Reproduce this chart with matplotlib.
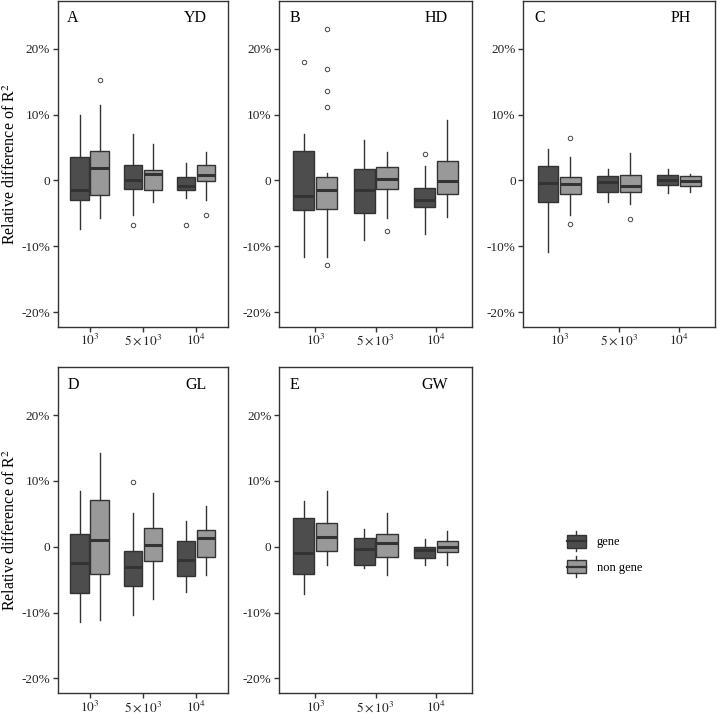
import numpy as np
import matplotlib
matplotlib.use('Agg')
import matplotlib.pyplot as plt
from matplotlib.patches import Rectangle
from matplotlib.lines import Line2D
from matplotlib.legend_handler import HandlerBase

plt.rcParams['font.family'] = ['Liberation Serif', 'DejaVu Serif']
plt.rcParams['mathtext.fontset'] = 'stix'

sizes = ['$10^3$', '$5\\times10^3$', '$10^4$']
letters = ['A', 'B', 'C', 'D', 'E']
traits = ['YD', 'HD', 'PH', 'GL', 'GW']

# five-number summaries in %: (whisker low, q1, median, q3, whisker high)
YD_gene = [(-7.3, -2.9, -1.4, 3.5, 9.9), (-5.2, -1.3, 0.05, 2.4, 7.0), (-2.6, -1.5, -0.8, 0.5, 2.7)]
YD_non = [(-5.7, -2.2, 1.9, 4.5, 11.4), (-3.3, -1.4, 0.95, 1.6, 5.5), (-2.9, -0.15, 0.85, 2.4, 4.3)]
YD_gene_out = [[], [-6.7], [-6.7]]
YD_non_out = [[15.2], [], [-5.3]]

HD_gene = [(-11.6, -4.5, -2.4, 4.4, 7.1), (-9.0, -4.9, -1.4, 1.7, 6.2), (-8.2, -4.0, -2.9, -1.2, 2.2)]
HD_non = [(-11.6, -4.3, -1.4, 0.6, 1.2), (-5.7, -1.3, 0.25, 2.1, 4.3), (-5.6, -2.1, -0.1, 2.9, 9.2)]
HD_gene_out = [[18.0], [], [4.0]]
HD_non_out = [[23.0, 17.0, 13.6, 11.2, -12.8], [-7.6], []]

PH_gene = [(-10.8, -3.2, -0.35, 2.2, 4.8), (-3.3, -1.8, -0.3, 0.7, 1.7), (-1.9, -0.7, 0.0, 0.8, 1.7)]
PH_non = [(-5.3, -2.1, -0.55, 0.6, 3.5), (-3.6, -1.7, -0.9, 0.9, 4.1), (-1.8, -0.9, -0.1, 0.7, 1.0)]
PH_gene_out = [[], [], []]
PH_non_out = [[6.5, -6.6], [-5.9], []]

GL_gene = [(-11.4, -7.0, -2.4, 2.0, 8.5), (-10.3, -5.9, -3.0, -0.65, 5.1), (-6.9, -4.4, -2.0, 0.85, 3.9)]
GL_non = [(-11.1, -4.1, 1.1, 7.1, 14.2), (-8.0, -2.2, 0.2, 2.8, 8.2), (-4.3, -1.6, 1.4, 2.5, 6.2)]
GL_gene_out = [[], [9.8], []]
GL_non_out = [[], [], []]

GW_gene = [(-7.1, -4.1, -0.9, 4.3, 7.0), (-3.2, -2.8, -0.35, 1.3, 2.7), (-2.7, -1.7, -0.55, 0.0, 1.2)]
GW_non = [(-2.8, -0.6, 1.5, 3.6, 8.5), (-4.3, -1.5, 0.6, 1.9, 5.2), (-2.8, -0.85, -0.05, 0.8, 2.4)]
GW_gene_out = [[], [], []]
GW_non_out = [[], [], []]

gene_data = [YD_gene, HD_gene, PH_gene, GL_gene, GW_gene]
non_data = [YD_non, HD_non, PH_non, GL_non, GW_non]
gene_out = [YD_gene_out, HD_gene_out, PH_gene_out, GL_gene_out, GW_gene_out]
non_out = [YD_non_out, HD_non_out, PH_non_out, GL_non_out, GW_non_out]

gene_col = '#4d4d4d'
non_col = '#999999'
line_col = '#333333'

W, H = 718, 714
fig = plt.figure(figsize=(W / 100, H / 100), dpi=100)

# axes rectangles in pixels: left, top, width
cells = [(57.7, 1, 170.3), (279, 1, 193.3), (523.3, 1, 191.7),
         (57.7, 367.3, 170.3), (279, 367.3, 193.3)]
ph = 326


def make_stats(summ, outs):
    st = []
    for (lo, q1, med, q3, hi), fl in zip(summ, outs):
        st.append(dict(whislo=lo, q1=q1, med=med, q3=q3, whishi=hi, fliers=fl))
    return st


for i in range(5):
    l, t, w = cells[i]
    ax = fig.add_axes([l / W, 1 - (t + ph) / H, w / W, ph / H])
    x = np.arange(3)
    for summ, outs, off, fc in [(gene_data[i], gene_out[i], -0.1875, gene_col),
                                (non_data[i], non_out[i], 0.1875, non_col)]:
        ax.bxp(make_stats(summ, outs), positions=x + off, widths=0.35,
               patch_artist=True, showcaps=False,
               boxprops=dict(facecolor=fc, edgecolor=line_col, linewidth=1.0),
               whiskerprops=dict(color=line_col, linewidth=1.0),
               medianprops=dict(color=line_col, linewidth=2.2),
               flierprops=dict(marker='o', markersize=3.2, markerfacecolor='white',
                               markeredgecolor='#444444', markeredgewidth=0.7))
    ax.set_xlim(-0.6, 2.6)
    ax.set_ylim(-22.25, 27.25)
    ax.set_xticks(x)
    ax.set_xticklabels(sizes, fontsize=9.5)
    ax.set_yticks([-20, -10, 0, 10, 20])
    ax.set_yticklabels(['-20%', '-10%', '0', '10%', '20%'], fontsize=9.5)
    ax.tick_params(length=3.5, width=1.0, color=line_col, labelcolor='#222222')
    ax.tick_params(axis='y', pad=2)
    ax.tick_params(axis='x', pad=1)
    for s in ax.spines.values():
        s.set_color(line_col)
        s.set_linewidth(1.0)
    ax.text(-0.42, 24.6, letters[i], fontsize=11.5, ha='left', va='center')
    ax.text(2.2, 24.6, traits[i], fontsize=11.5, ha='right', va='center')
    if i in (0, 3):
        ax.set_ylabel('Relative difference of R$^2$', fontsize=11.5)
        ax.yaxis.set_label_coords((19 - l) / w, 0.5)


class BoxHandler(HandlerBase):
    def create_artists(self, legend, orig_handle, xdescent, ydescent, width, height, fontsize, trans):
        fc = orig_handle.get_facecolor()
        x0, y0 = -xdescent, -ydescent
        r = Rectangle((x0, y0), width, height, facecolor=fc, edgecolor=line_col,
                      linewidth=1.0, transform=trans)
        m = Line2D([x0, x0 + width], [y0 + height / 2] * 2, color=line_col, lw=1.6, transform=trans)
        wt = Line2D([x0 + width / 2] * 2, [y0 + height, y0 + height * 1.3], color=line_col, lw=1.0, transform=trans)
        wb = Line2D([x0 + width / 2] * 2, [y0, y0 - height * 0.3], color=line_col, lw=1.0, transform=trans)
        return [r, m, wt, wb]


handles = [Rectangle((0, 0), 1, 1, facecolor=gene_col), Rectangle((0, 0), 1, 1, facecolor=non_col)]
fig.legend(handles, ['gene', 'non gene'], handler_map={Rectangle: BoxHandler()},
           loc='center left', bbox_to_anchor=(566.7 / W, 1 - 554.3 / H),
           frameon=False, fontsize=9, handlelength=1.55, handleheight=1.2,
           handletextpad=0.85, labelspacing=0.95, borderpad=0, borderaxespad=0)

fig.savefig('out.png', dpi=100)
